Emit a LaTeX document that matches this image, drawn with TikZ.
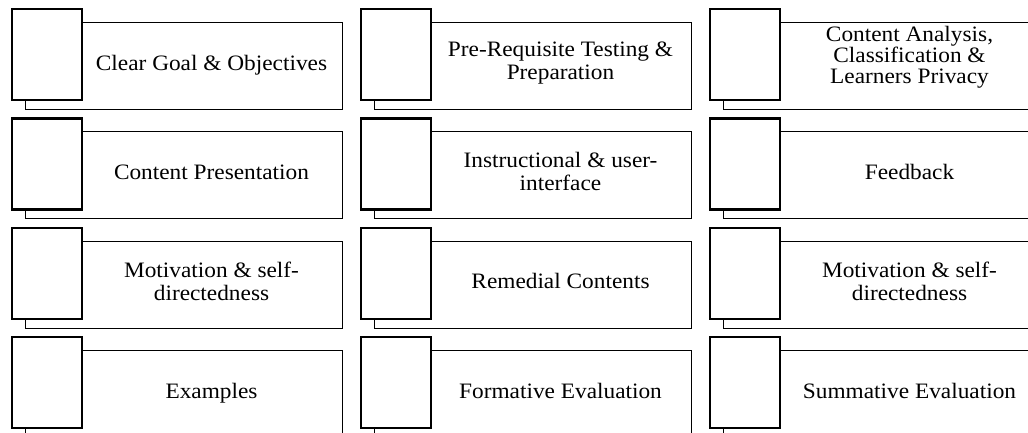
\documentclass[tikz,border=0pt]{standalone}
\usepackage{fontspec}
\usepackage{graphicx}
\setmainfont{Liberation Serif}
\tikzset{
  frame/.style={draw, line width=0.9pt, fill=white, inner sep=0pt, anchor=north west},
  tabbox/.style={draw, line width=2.2pt, fill=white, inner sep=0pt, anchor=north west,
                 minimum width=70pt, minimum height=91pt},
  lbl/.style={inner sep=0pt, font=\fontsize{22}{23}\selectfont}
}
\newcommand\lbltext[2]{\scalebox{1.06}[1]{\def\arraystretch{#1}\begin{tabular}{@{}c@{}}#2\end{tabular}}}
\newcommand\mkcell[6][0]{%
  \pgfmathsetmacro\cx{11+349*#4}%
  \pgfmathsetmacro\cy{8+109.3*#3}%
  \node[frame, minimum width=317pt, minimum height=87pt] (#5f) at (\cx+14,\cy+14) {};
  \node[tabbox] (#5b) at (\cx,\cy) {};
  \node[lbl] (#5t) at (\cx+200.5,\cy+57.5+#1) {\lbltext{#2}{#6}};
}
\begin{document}
\begin{tikzpicture}[x=1pt,y=-1pt]
\useasboundingbox (0,0) rectangle (1028,432);
\clip (0,0) rectangle (1028,432);
\mkcell{1}{0}{0}{a}{Clear Goal \& Objectives}
\mkcell[-2]{1}{0}{1}{b}{Pre-Requisite Testing \&\\Preparation}
\mkcell[-8]{0.85}{0}{2}{c}{Content Analysis,\\Classification \&\\Learners Privacy}
\mkcell{1}{1}{0}{d}{Content Presentation}
\mkcell{1}{1}{1}{e}{Instructional \& user-\\interface}
\mkcell{1}{1}{2}{f}{Feedback}
\mkcell{1}{2}{0}{g}{Motivation \& self-\\directedness}
\mkcell{1}{2}{1}{h}{Remedial Contents}
\mkcell{1}{2}{2}{i}{Motivation \& self-\\directedness}
\mkcell{1}{3}{0}{j}{Examples}
\mkcell{1}{3}{1}{k}{Formative Evaluation}
\mkcell{1}{3}{2}{l}{Summative Evaluation}
\end{tikzpicture}
\end{document}
